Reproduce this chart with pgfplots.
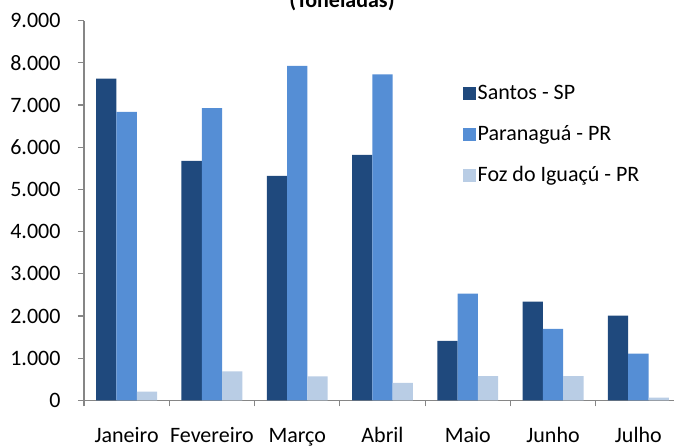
\documentclass[border=0pt]{standalone}
\usepackage{fontspec}
\setmainfont{Carlito}
\usepackage{pgfplots}
\pgfplotsset{compat=1.18}
\definecolor{santos}{RGB}{31,73,125}
\definecolor{parana}{RGB}{85,142,213}
\definecolor{foz}{RGB}{185,205,229}
\definecolor{axgray}{RGB}{134,134,134}
\begin{document}
\fontsize{22}{26}\selectfont
\begin{tikzpicture}
\begin{axis}[
  scale only axis,
  width=597pt, height=379.8pt,
  at={(0,0)}, anchor=south west,
  xmin=-0.5, xmax=6.5, ymin=0, ymax=9000,
  ybar=0pt, bar width=20.3pt,
  axis x line*=bottom, axis y line*=left,
  axis line style={axgray, line width=1.6pt, -},
  xtick={0,1,2,3,4,5,6},
  xticklabels={Janeiro,Fevereiro,Março,Abril,Maio,Junho,Julho},
  major x tick style={draw=none},
  minor xtick={-0.5,0.5,1.5,2.5,3.5,4.5,5.5,6.5},
  minor x tick style={axgray, line width=1.2pt},
  minor tick length=6pt,
  ytick={0,1000,...,9000},
  major y tick style={axgray, line width=1.2pt},
  major tick length=6pt,
  tick align=outside,
  scaled y ticks=false,
  /pgf/number format/.cd, 1000 sep={.}, assume math mode=true,
  /pgfplots/.cd,
  xticklabel style={yshift=-11.5pt, text height=16.5pt, text depth=5pt, font=\fontsize{22}{26}\selectfont},
  yticklabel style={xshift=-10pt, font=\fontsize{22}{26}\selectfont},
  legend style={draw=none, fill=none, at={(axis description cs:0.634,0.836)}, anchor=north west,
    font=\fontsize{22}{26}\selectfont, row sep=18.5pt, inner sep=0pt,
    /tikz/every even column/.append style={column sep=2pt}},
  legend cell align=left,
  legend image code/.code={\fill[#1] (0pt,-6.5pt) rectangle (13pt,6.5pt);},
]
\addplot[fill=santos, draw=none] coordinates {(0,7630) (1,5680) (2,5320) (3,5820) (4,1410) (5,2340) (6,2010)};
\addplot[fill=parana, draw=none] coordinates {(0,6840) (1,6930) (2,7930) (3,7730) (4,2530) (5,1700) (6,1110)};
\addplot[fill=foz, draw=none] coordinates {(0,210) (1,690) (2,570) (3,420) (4,580) (5,580) (6,70)};
\legend{Santos - SP, Paranaguá - PR, Foz do Iguaçú - PR}
\end{axis}
\node[anchor=base, font=\bfseries\fontsize{22}{26}\selectfont] at (258pt,392.5pt) {(Toneladas)};
\pgfresetboundingbox
\useasboundingbox (-84pt,-45.5pt) rectangle (590pt,400.5pt);
\end{tikzpicture}
\end{document}
